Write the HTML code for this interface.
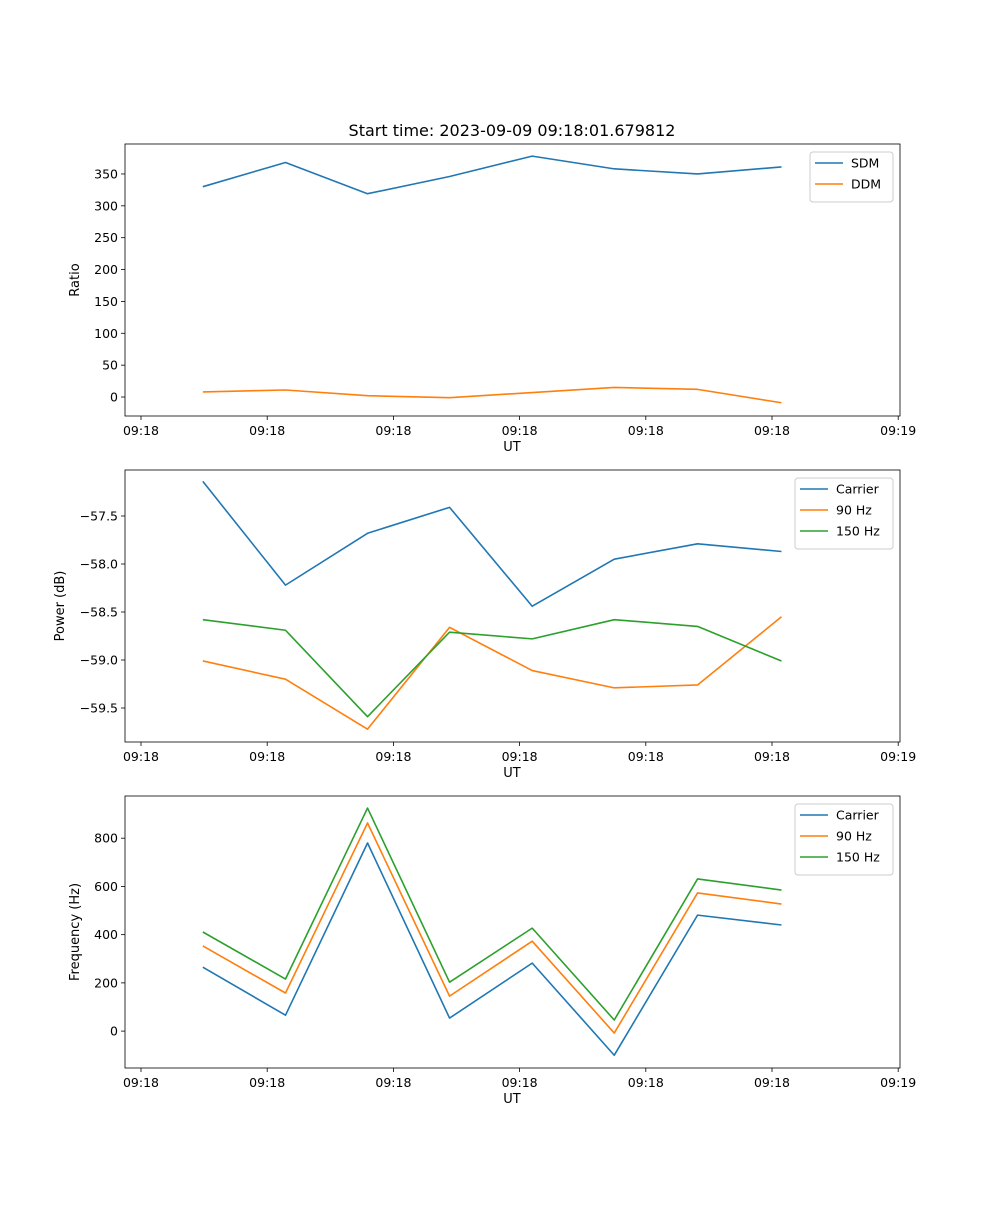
<!DOCTYPE html>
<html><head><meta charset="utf-8"><style>
body{margin:0;background:#fff;}
svg text{font-family:"DejaVu Sans","Liberation Sans",sans-serif;fill:#000;}
</style></head><body>
<svg id="fig" width="1000" height="1200" xmlns="http://www.w3.org/2000/svg">
<rect width="1000" height="1200" fill="#fff"/>
<text x="512" y="136" font-size="16" text-anchor="middle">Start time: 2023-09-09 09:18:01.679812</text>
</svg>
<script>
const times = [4.9, 11.45, 17.95, 24.45, 31.0, 37.5, 44.1, 50.75];
const xTickVals = [0, 10, 20, 30, 40, 50, 60];
const xTickLabels = ["09:18","09:18","09:18","09:18","09:18","09:18","09:19"];
const sdm = [330, 368, 319, 346, 378, 358, 350, 361];
const ddm = [8, 11, 2, -1, 7, 15, 12, -9];
const powCarrier = [-57.14, -58.22, -57.68, -57.41, -58.44, -57.95, -57.79, -57.87];
const pow90 = [-59.01, -59.20, -59.72, -58.66, -59.11, -59.29, -59.26, -58.55];
const pow150 = [-58.58, -58.69, -59.59, -58.71, -58.78, -58.58, -58.65, -59.01];
const freqCarrier = [265, 66, 780, 54, 282, -100, 481, 440];
const freq90 = [353, 158, 863, 145, 373, -8, 573, 527];
const freq150 = [411, 216, 925, 203, 427, 46, 631, 585];
const ratioTicks = [0, 50, 100, 150, 200, 250, 300, 350];
const powTicks = [-57.5, -58.0, -58.5, -59.0, -59.5];
const freqTicks = [0, 200, 400, 600, 800];

const NS = "http://www.w3.org/2000/svg";
const svg = document.getElementById('fig');
const C = {blue:'#1f77b4', orange:'#ff7f0e', green:'#2ca02c'};
const L = 125, R = 900;
function xs(t){ return 141 + t * 12.62; }
function mk(tag, attrs, parent){ const e = document.createElementNS(NS, tag); for (const k in attrs) e.setAttribute(k, attrs[k]); (parent||svg).appendChild(e); return e; }

function panel(name, top, bot, yMin, yMax, ticks, fmt, ylabel, series, legend){
  const g = mk('g', {});
  
  
  const ys = v => bot - (v - yMin) / (yMax - yMin) * (bot - top);
  ticks.forEach(v => {
    const y = ys(v);
    mk('line', {x1:L-4, x2:L, y1:y, y2:y, stroke:'#000', 'stroke-width':0.8}, g);
    const t = mk('text', {x:L-7, y:y+4.5, 'font-size':12.5, 'text-anchor':'end'}, g);
    t.textContent = fmt(v);
    
    
  });
  xTickVals.forEach((v, i) => {
    const x = xs(v);
    mk('line', {x1:x, x2:x, y1:bot, y2:bot+4, stroke:'#000', 'stroke-width':0.8}, g);
    const t = mk('text', {x:x, y:bot+19, 'font-size':12.5, 'text-anchor':'middle'}, g);
    t.textContent = xTickLabels[i];
    
    
  });
  const xl = mk('text', {x:512, y:bot+35, 'font-size':13, 'text-anchor':'middle'}, g);
  xl.textContent = 'UT';
  
  
  const yl = mk('text', {x:0, y:0, 'font-size':13, 'text-anchor':'middle', transform:`translate(${ylabel[1]},${(top+bot)/2}) rotate(-90)`}, g);
  yl.textContent = ylabel[0];
  
  
  series.forEach(s => {
    const p = mk('polyline', {points: s.vals.map((v,i)=>xs(times[i])+','+ys(v)).join(' '), fill:'none', stroke:s.color, 'stroke-width':1.6, 'stroke-linejoin':'round'}, g);
    
    
  });
  mk('rect', {x:L, y:top, width:R-L, height:bot-top, fill:'none', stroke:'#000', 'stroke-width':0.8}, g);
  const lg = mk('g', {}, g);
  
  
  mk('rect', {x:legend.x, y:top+8, width:legend.w, height:series.length*21+8, rx:3, fill:'#fff', stroke:'#ccc', 'stroke-width':1}, lg);
  series.forEach((s, i) => {
    const y = top + 19 + i*21;
    mk('line', {x1:legend.x+5, x2:legend.x+33, y1:y, y2:y, stroke:s.color, 'stroke-width':1.6}, lg);
    const t = mk('text', {x:legend.x+41, y:y+4.5, 'font-size':12.5}, lg);
    t.textContent = s.label;
    
    
  });
}
const minus = v => String(v).replace('-', '\u2212');
panel('ratio', 144, 416, -29.8, 397, ratioTicks, v=>minus(v), ['Ratio', 79],
  [{id:'sdm', label:'SDM', vals:sdm, color:C.blue},{id:'ddm', label:'DDM', vals:ddm, color:C.orange}], {x:810, w:83});
panel('power', 470, 742, -59.854, -57.021, powTicks, v=>minus(v.toFixed(1)), ['Power (dB)', 64],
  [{id:'power-carrier', label:'Carrier', vals:powCarrier, color:C.blue},{id:'power-90hz', label:'90 Hz', vals:pow90, color:C.orange},{id:'power-150hz', label:'150 Hz', vals:pow150, color:C.green}], {x:795, w:98});
panel('frequency', 796, 1068, -153, 975, freqTicks, v=>minus(v), ['Frequency (Hz)', 79],
  [{id:'freq-carrier', label:'Carrier', vals:freqCarrier, color:C.blue},{id:'freq-90hz', label:'90 Hz', vals:freq90, color:C.orange},{id:'freq-150hz', label:'150 Hz', vals:freq150, color:C.green}], {x:795, w:98});
</script>
</body></html>
